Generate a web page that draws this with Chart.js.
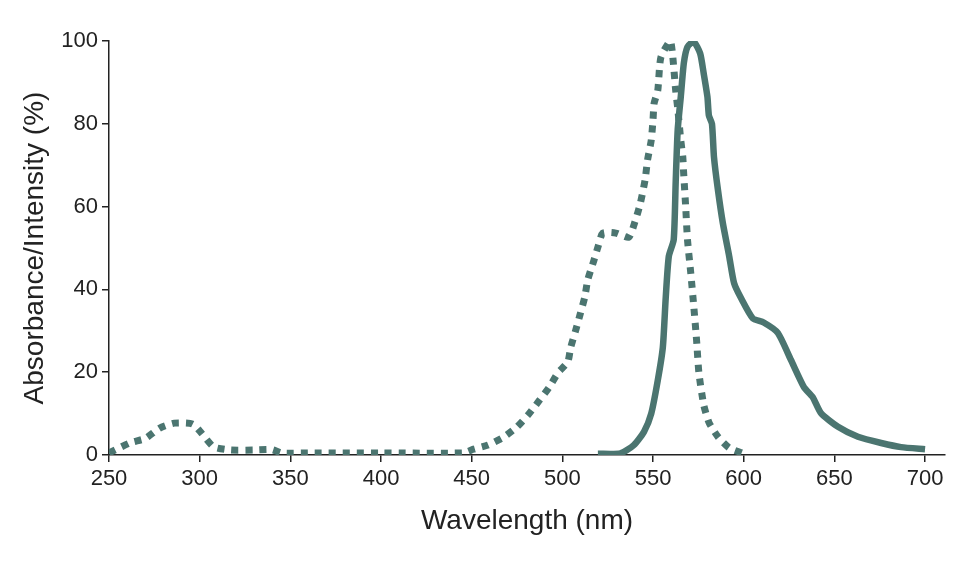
<!DOCTYPE html>
<html>
<head>
<meta charset="utf-8">
<script src="https://cdn.jsdelivr.net/npm/chart.js@4"></script>
<style>
  html, body { margin: 0; padding: 0; background: #fff; }
  #box { width: 975px; height: 564px; }
</style>
</head>
<body>
<div id="box"><canvas id="spectrumChart"></canvas></div>
<script>
// Absorbance (dotted)
const absWavelength = [250, 262, 270, 278, 286, 296, 301, 307.6, 317, 330, 340, 345, 360, 400, 445, 451,
    459, 467.6, 475, 481.5, 487, 492.5, 497.5, 503, 504.6, 507.4, 510, 512.4, 514, 517.4, 519.6, 522.3,
    529.5, 536.6, 540, 543, 545.6, 547, 549, 550, 550.6, 552.6, 554.3, 559.5, 560.8, 562.5, 563.6,
    565.3, 566.4, 566.9, 568, 569, 570.8, 572.5, 574, 575.3, 578, 581, 586, 592, 599];
const absValues = [0.5, 3, 4, 6.5, 7.7, 7.5, 5.3, 2, 1.2, 1.2, 1.3, 0.5, 0.5, 0.5, 0.5, 1.4,
    2.4, 4.3, 6.8, 9.9, 13, 16.2, 19.8, 22.5, 26, 30.2, 34.3, 38.2, 42.3, 47, 50.2, 53.6,
    53.6, 52.6, 56.3, 60.8, 66.4, 71.3, 76, 81, 85, 88, 96, 100, 96.6, 88, 83.8,
    76, 72, 68, 60, 52, 44, 35.7, 27.8, 19.8, 12, 7.7, 4.3, 1.7, 0.5];

// Emission intensity (solid)
const emWavelength = [519.6, 532, 539.4, 545, 549, 552.6, 555.4, 557, 558.7, 561.4, 562.5, 563.6,
    565.3, 567, 569, 572.5, 576, 578, 580, 580.8, 582.5, 583.6, 585.8, 588.5, 592, 594.7, 598.5,
    605, 611, 618.8, 626, 633.2, 638, 642.6, 652, 663, 675.8, 686.8, 700];
const emValues = [0.3, 0.4, 2.4, 5.6, 10, 18, 26, 38, 48, 52, 66, 78.5,
    86.5, 94.7, 98.6, 99.8, 97, 92, 86.5, 82, 80, 72, 64, 56, 48, 41.5, 37.9,
    33, 32, 29.5, 23, 16.4, 14, 10.1, 6.8, 4.4, 2.9, 1.9, 1.4];

const xTicks = [250, 300, 350, 400, 450, 500, 550, 600, 650, 700];
const yTicks = [0, 20, 40, 60, 80, 100];

const lineColor = '#4b7570';
const inkColor = '#222222';
const fontFamily = '"Liberation Sans", Arial, Helvetica, sans-serif';

const toPoints = (xs, ys) => xs.map((x, i) => ({ x: x, y: ys[i] }));

const ctx = document.getElementById('spectrumChart').getContext('2d');
const spectrumChart = new Chart(ctx, {
    type: 'line',
    data: {
        datasets: [{
            label: 'Absorbance',
            data: toPoints(absWavelength, absValues),
            borderColor: lineColor,
            borderWidth: 7,
            borderDash: [7, 7],
            borderCapStyle: 'butt',
            pointRadius: 0,
            tension: 0.2,
            fill: false
        }, {
            label: 'Intensity',
            data: toPoints(emWavelength, emValues),
            borderColor: lineColor,
            borderWidth: 6.5,
            borderJoinStyle: 'round',
            borderCapStyle: 'butt',
            pointRadius: 0,
            tension: 0.2,
            fill: false
        }]
    },
    options: {
        responsive: true,
        maintainAspectRatio: false,
        animation: false,
        layout: { padding: { top: 41, right: 30, bottom: 0, left: 0 } },
        plugins: {
            legend: { display: false },
            tooltip: { enabled: false }
        },
        scales: {
            x: {
                type: 'linear',
                min: 250,
                max: 711,
                afterBuildTicks: (scale) => { scale.ticks = xTicks.map(v => ({ value: v })); },
                afterFit: (scale) => { scale.height = 109; },
                grid: { drawOnChartArea: false, drawTicks: true, tickLength: 7, color: inkColor, lineWidth: 1.5 },
                border: { display: true, color: inkColor, width: 1.5 },
                ticks: { color: inkColor, font: { family: fontFamily, size: 22 }, padding: 4, maxRotation: 0 },
                title: {
                    display: true,
                    text: 'Wavelength (nm)',
                    color: inkColor,
                    font: { family: fontFamily, size: 28 },
                    padding: { top: 0, bottom: 26 }
                }
            },
            y: {
                min: 0,
                max: 100,
                afterBuildTicks: (scale) => { scale.ticks = yTicks.map(v => ({ value: v })); },
                afterFit: (scale) => { scale.width = 109; },
                grid: { drawOnChartArea: false, drawTicks: true, tickLength: 7, color: inkColor, lineWidth: 1.5 },
                border: { display: true, color: inkColor, width: 1.5 },
                ticks: { color: inkColor, font: { family: fontFamily, size: 22 }, padding: 4 },
                title: {
                    display: true,
                    text: 'Absorbance/Intensity (%)',
                    color: inkColor,
                    font: { family: fontFamily, size: 28 },
                    padding: { top: 18, bottom: 0 }
                }
            }
        }
    }
});
</script>
</body>
</html>
